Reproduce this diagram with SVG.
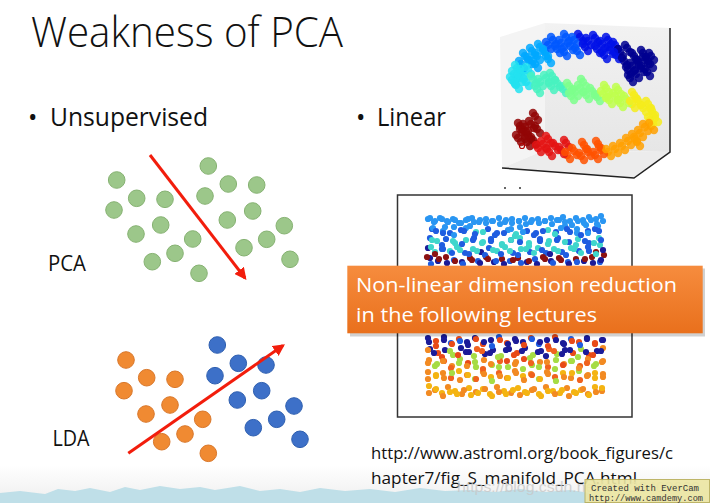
<svg xmlns="http://www.w3.org/2000/svg" xmlns:xlink="http://www.w3.org/1999/xlink" width="710" height="503" viewBox="0 0 710 503">
<defs>
<style>
.t{font-family:"Open Sans","Liberation Sans",sans-serif;fill:#111}
.gd{fill:#9cc78a;stroke:#86b272;stroke-width:1}
.od{fill:#f08a32;stroke:#d9772a;stroke-width:1}
.bd{fill:#3d70c8;stroke:#2e5fb0;stroke-width:1}
.arr{stroke:#f21d0c;stroke-width:3;fill:none}
#sc circle{r:3.1}
.a{fill:#2a96f2}.b{fill:#1f5ce0}.c{fill:#3fd6cc}.d{fill:#1b1b98}.e{fill:#8c1212}.f{fill:#e84a18}.g{fill:#a6dc44}.h{fill:#f28a22}.i{fill:#f4b412}.j{fill:#f0621e}
#s3d circle{r:4.2;opacity:.85}
.s1{fill:#00008f}.s2{fill:#0010e8}.s3{fill:#0058ff}.s4{fill:#00a8ff}.s5{fill:#22e2f0}.s6{fill:#48f2c0}.s7{fill:#7cff8c}.s8{fill:#beff4c}.s9{fill:#f4ec1c}.s10{fill:#ffa000}.s11{fill:#ff5200}.s12{fill:#e41414}.s13{fill:#920606}
</style>
<marker id="ah" viewBox="0 0 10 10" refX="8" refY="5" markerWidth="4" markerHeight="4" orient="auto" markerUnits="strokeWidth">
<path d="M0,0 L10,5 L0,10 Z" fill="#f21d0c"/>
</marker>
<linearGradient id="og" x1="0" y1="0" x2="0" y2="1">
<stop offset="0" stop-color="#f68c3e"/><stop offset="1" stop-color="#e9701c"/>
</linearGradient>
<linearGradient id="bg" x1="0" y1="0" x2="0" y2="1">
<stop offset="0" stop-color="#ffffff"/><stop offset="1" stop-color="#eeeeee"/>
</linearGradient>
<linearGradient id="wall" x1="0" y1="0" x2="0" y2="1">
<stop offset="0" stop-color="#f2f2f2"/><stop offset="1" stop-color="#e6e6e6"/>
</linearGradient>
</defs>
<rect width="710" height="503" fill="#fff"/>
<rect x="0" y="465" width="710" height="38" fill="url(#bg)"/>
<path d="M0,493 L20,491 L45,494 L58,489 L75,491 L90,488 L110,492 L125,487 L140,490 L160,486 L180,489 L200,487 L215,490 L240,486 L260,491 L280,489 L300,492 L320,488 L345,491 L370,489 L395,492 L420,488 L445,491 L470,490 L495,492 L520,489 L545,492 L570,490 L590,493 L590,503 L0,503 Z" fill="#bfdfe8"/>
<text class="t" x="31" y="46.5" font-size="42" font-weight="300" textLength="312" lengthAdjust="spacingAndGlyphs">Weakness of PCA</text>
<g id="bullet-unsupervised"><text class="t" x="28" y="126" font-size="25">•</text><text class="t" x="50" y="126" font-size="25" textLength="158" lengthAdjust="spacingAndGlyphs">Unsupervised</text></g>
<g id="bullet-linear"><text class="t" x="356" y="126" font-size="25">•</text><text class="t" x="377" y="126" font-size="25" textLength="69" lengthAdjust="spacingAndGlyphs">Linear</text></g>
<g id="pca-label"><text class="t" x="48" y="271" font-size="21" textLength="38" lengthAdjust="spacingAndGlyphs">PCA</text></g>
<g id="lda-label"><text class="t" x="52.5" y="446" font-size="21" textLength="37" lengthAdjust="spacingAndGlyphs">LDA</text></g>
<g id="pca-dots">
<circle class="gd" cx="208.3" cy="166" r="8.3"/><circle class="gd" cx="116.7" cy="180" r="8.3"/><circle class="gd" cx="228.3" cy="184" r="8.3"/><circle class="gd" cx="256.7" cy="185" r="8.3"/><circle class="gd" cx="136.7" cy="198.3" r="8.3"/><circle class="gd" cx="165" cy="199.3" r="8.3"/><circle class="gd" cx="205" cy="196" r="8.3"/><circle class="gd" cx="114" cy="210" r="8.3"/><circle class="gd" cx="252.7" cy="211" r="8.3"/><circle class="gd" cx="227.3" cy="220" r="8.3"/><circle class="gd" cx="160.7" cy="225" r="8.3"/><circle class="gd" cx="136" cy="234" r="8.3"/><circle class="gd" cx="284.3" cy="225.7" r="8.3"/><circle class="gd" cx="192.7" cy="239" r="8.3"/><circle class="gd" cx="266.7" cy="239.3" r="8.3"/><circle class="gd" cx="244" cy="247.7" r="8.3"/><circle class="gd" cx="175" cy="253.3" r="8.3"/><circle class="gd" cx="152.3" cy="261.7" r="8.3"/><circle class="gd" cx="290" cy="259.3" r="8.3"/><circle class="gd" cx="199" cy="273.3" r="8.3"/>
</g>
<g id="lda-dots">
<circle class="od" cx="126" cy="360" r="8.3"/><circle class="od" cx="146.7" cy="377.7" r="8.3"/><circle class="od" cx="175" cy="379.3" r="8.3"/><circle class="od" cx="124" cy="390.7" r="8.3"/><circle class="od" cx="170" cy="405" r="8.3"/><circle class="od" cx="146" cy="414" r="8.3"/><circle class="od" cx="202.7" cy="419.3" r="8.3"/><circle class="od" cx="185" cy="434" r="8.3"/><circle class="od" cx="161.7" cy="441.7" r="8.3"/><circle class="od" cx="208.3" cy="453.3" r="8.3"/>
<circle class="bd" cx="217.3" cy="345" r="8.3"/><circle class="bd" cx="238.3" cy="363.3" r="8.3"/><circle class="bd" cx="266" cy="365" r="8.3"/><circle class="bd" cx="215" cy="375.7" r="8.3"/><circle class="bd" cx="261.7" cy="390.7" r="8.3"/><circle class="bd" cx="237.3" cy="400" r="8.3"/><circle class="bd" cx="294" cy="406" r="8.3"/><circle class="bd" cx="276.7" cy="419.3" r="8.3"/><circle class="bd" cx="253.3" cy="427.7" r="8.3"/><circle class="bd" cx="300" cy="439.3" r="8.3"/>
</g>
<g id="connectors">
<line class="arr" x1="150" y1="155" x2="245" y2="278" marker-end="url(#ah)"/>
<line class="arr" x1="128.3" y1="453.3" x2="283" y2="345.5" marker-end="url(#ah)"/>
</g>
<g id="s-curve-3d">
<polygon points="500,37 545,23 545,150 502,168" fill="#f4f4f4"/>
<polygon points="545,23 670,28 670,152 545,150" fill="url(#wall)"/>
<polygon points="502,168 545,150 670,152 634,178" fill="#ececec"/>
<polyline points="502,168 634,178 670,152 670,28" fill="none" stroke="#222" stroke-width="1.5"/>
<g id="s3d">
<g id="s3dpts">
<circle class="s1" cx="636" cy="74"/><circle class="s1" cx="641" cy="68"/><circle class="s1" cx="632" cy="66"/><circle class="s1" cx="645" cy="60"/><circle class="s1" cx="638" cy="62"/><circle class="s1" cx="628" cy="70"/><circle class="s1" cx="650" cy="64"/><circle class="s1" cx="643" cy="53"/><circle class="s1" cx="634" cy="56"/><circle class="s1" cx="630" cy="78"/><circle class="s1" cx="624" cy="61"/><circle class="s1" cx="620" cy="52"/><circle class="s1" cx="647" cy="72"/><circle class="s1" cx="627" cy="48"/><circle class="s1" cx="651" cy="56"/>
<circle class="s2" cx="615" cy="45"/><circle class="s2" cx="610" cy="50"/><circle class="s2" cx="608" cy="40"/><circle class="s2" cx="602" cy="44"/><circle class="s2" cx="595" cy="38"/><circle class="s2" cx="597" cy="49"/><circle class="s2" cx="588" cy="41"/><circle class="s2" cx="585" cy="47"/><circle class="s2" cx="580" cy="37"/><circle class="s2" cx="616" cy="55"/><circle class="s2" cx="604" cy="55"/>
<circle class="s3" cx="574" cy="40"/><circle class="s3" cx="570" cy="46"/><circle class="s3" cx="566" cy="37"/><circle class="s3" cx="561" cy="43"/><circle class="s3" cx="557" cy="49"/><circle class="s3" cx="553" cy="40"/><circle class="s3" cx="548" cy="45"/><circle class="s3" cx="577" cy="51"/><circle class="s3" cx="564" cy="52"/>
<circle class="s4" cx="545" cy="52"/><circle class="s4" cx="540" cy="47"/><circle class="s4" cx="537" cy="56"/><circle class="s4" cx="532" cy="51"/><circle class="s4" cx="529" cy="60"/><circle class="s4" cx="525" cy="56"/><circle class="s4" cx="521" cy="64"/><circle class="s4" cx="548" cy="59"/><circle class="s4" cx="535" cy="64"/>
<circle class="s5" cx="517" cy="68"/><circle class="s5" cx="514" cy="74"/><circle class="s5" cx="519" cy="78"/><circle class="s5" cx="512" cy="80"/><circle class="s5" cx="522" cy="72"/><circle class="s5" cx="526" cy="82"/><circle class="s5" cx="516" cy="85"/><circle class="s5" cx="528" cy="70"/>
<circle class="s6" cx="533" cy="79"/><circle class="s6" cx="540" cy="82"/><circle class="s6" cx="546" cy="78"/><circle class="s6" cx="551" cy="86"/><circle class="s6" cx="557" cy="83"/><circle class="s6" cx="563" cy="89"/><circle class="s6" cx="537" cy="89"/><circle class="s6" cx="552" cy="76"/>
<circle class="s7" cx="569" cy="86"/><circle class="s7" cx="575" cy="92"/><circle class="s7" cx="580" cy="88"/><circle class="s7" cx="586" cy="95"/><circle class="s7" cx="592" cy="91"/><circle class="s7" cx="597" cy="97"/><circle class="s7" cx="583" cy="82"/><circle class="s7" cx="571" cy="96"/>
<circle class="s8" cx="603" cy="94"/><circle class="s8" cx="609" cy="100"/><circle class="s8" cx="615" cy="96"/><circle class="s8" cx="620" cy="103"/><circle class="s8" cx="626" cy="99"/><circle class="s8" cx="606" cy="88"/><circle class="s8" cx="618" cy="90"/>
<circle class="s9" cx="632" cy="104"/><circle class="s9" cx="638" cy="101"/><circle class="s9" cx="643" cy="108"/><circle class="s9" cx="648" cy="104"/><circle class="s9" cx="652" cy="111"/><circle class="s9" cx="655" cy="118"/><circle class="s9" cx="650" cy="120"/><circle class="s9" cx="634" cy="95"/>
<circle class="s10" cx="645" cy="127"/><circle class="s10" cx="640" cy="133"/><circle class="s10" cx="634" cy="137"/><circle class="s10" cx="628" cy="141"/><circle class="s10" cx="622" cy="146"/><circle class="s10" cx="615" cy="149"/><circle class="s10" cx="608" cy="152"/><circle class="s10" cx="651" cy="126"/><circle class="s10" cx="637" cy="142"/>
<circle class="s11" cx="601" cy="150"/><circle class="s11" cx="595" cy="155"/><circle class="s11" cx="588" cy="152"/><circle class="s11" cx="581" cy="156"/><circle class="s11" cx="574" cy="151"/><circle class="s11" cx="567" cy="155"/><circle class="s11" cx="598" cy="144"/><circle class="s11" cx="584" cy="145"/>
<circle class="s12" cx="561" cy="150"/><circle class="s12" cx="555" cy="146"/><circle class="s12" cx="549" cy="152"/><circle class="s12" cx="543" cy="144"/><circle class="s12" cx="538" cy="148"/><circle class="s12" cx="566" cy="143"/><circle class="s12" cx="548" cy="139"/>
<circle class="s13" cx="533" cy="140"/><circle class="s13" cx="528" cy="135"/><circle class="s13" cx="522" cy="132"/><circle class="s13" cx="518" cy="138"/><circle class="s13" cx="525" cy="127"/><circle class="s13" cx="531" cy="124"/><circle class="s13" cx="537" cy="129"/><circle class="s13" cx="520" cy="126"/><circle class="s13" cx="527" cy="142"/><circle class="s13" cx="535" cy="116"/>
</g>
<use xlink:href="#s3dpts" href="#s3dpts" transform="translate(3,4)"/>
<use xlink:href="#s3dpts" href="#s3dpts" transform="translate(-2,-3)"/>
</g>
<circle cx="522" cy="146" r="2.5" fill="none" stroke="#b00000" stroke-width="1.2"/>
</g>
<g id="scatter-2d">
<circle cx="505" cy="188" r="1" fill="#333"/><circle cx="520" cy="188" r="1" fill="#333"/>
<rect x="397.5" y="195" width="234.5" height="222" fill="#fff" stroke="#333" stroke-width="1.5"/>
<g id="sc">
<g id="scpts">
<circle class="a" cx="428" cy="219"/><circle class="a" cx="434" cy="222"/><circle class="a" cx="440" cy="218"/><circle class="a" cx="447" cy="221"/><circle class="a" cx="453" cy="219"/><circle class="a" cx="459" cy="223"/><circle class="a" cx="466" cy="220"/><circle class="a" cx="472" cy="218"/><circle class="a" cx="479" cy="222"/><circle class="a" cx="486" cy="219"/><circle class="a" cx="492" cy="221"/><circle class="a" cx="499" cy="218"/><circle class="a" cx="505" cy="222"/><circle class="a" cx="512" cy="219"/><circle class="a" cx="519" cy="221"/><circle class="a" cx="525" cy="218"/><circle class="a" cx="531" cy="222"/><circle class="a" cx="538" cy="219"/><circle class="a" cx="545" cy="221"/><circle class="a" cx="551" cy="218"/><circle class="a" cx="557" cy="220"/><circle class="a" cx="563" cy="217"/><circle class="a" cx="570" cy="221"/><circle class="a" cx="576" cy="218"/><circle class="a" cx="583" cy="220"/><circle class="a" cx="589" cy="217"/><circle class="a" cx="596" cy="219"/><circle class="a" cx="601" cy="216"/><circle class="a" cx="454" cy="227"/><circle class="a" cx="470" cy="226"/><circle class="a" cx="520" cy="227"/><circle class="a" cx="565" cy="226"/><circle class="a" cx="598" cy="226"/><circle class="a" cx="586" cy="225"/>
<circle class="b" cx="432" cy="229"/><circle class="a" cx="443" cy="231"/><circle class="b" cx="450" cy="233"/><circle class="b" cx="461" cy="230"/><circle class="c" cx="476" cy="232"/><circle class="b" cx="488" cy="229"/><circle class="b" cx="497" cy="233"/><circle class="a" cx="508" cy="230"/><circle class="c" cx="516" cy="234"/><circle class="b" cx="527" cy="231"/><circle class="b" cx="536" cy="233"/><circle class="c" cx="548" cy="230"/><circle class="b" cx="556" cy="232"/><circle class="b" cx="567" cy="229"/><circle class="a" cx="577" cy="233"/><circle class="b" cx="588" cy="231"/><circle class="b" cx="595" cy="229"/>
<circle class="b" cx="430" cy="238"/><circle class="c" cx="437" cy="241"/><circle class="b" cx="446" cy="239"/><circle class="c" cx="455" cy="243"/><circle class="c" cx="466" cy="240"/><circle class="b" cx="474" cy="238"/><circle class="c" cx="483" cy="242"/><circle class="b" cx="491" cy="239"/><circle class="c" cx="502" cy="244"/><circle class="b" cx="511" cy="240"/><circle class="c" cx="520" cy="238"/><circle class="c" cx="529" cy="243"/><circle class="b" cx="540" cy="239"/><circle class="c" cx="549" cy="241"/><circle class="b" cx="558" cy="238"/><circle class="b" cx="569" cy="242"/><circle class="c" cx="578" cy="239"/><circle class="b" cx="589" cy="243"/><circle class="c" cx="599" cy="238"/>
<circle class="d" cx="428" cy="248"/><circle class="c" cx="435" cy="252"/><circle class="b" cx="442" cy="249"/><circle class="c" cx="450" cy="251"/><circle class="c" cx="457" cy="247"/><circle class="b" cx="465" cy="253"/><circle class="c" cx="473" cy="249"/><circle class="d" cx="481" cy="252"/><circle class="b" cx="489" cy="248"/><circle class="c" cx="497" cy="251"/><circle class="c" cx="505" cy="247"/><circle class="b" cx="513" cy="253"/><circle class="c" cx="521" cy="249"/><circle class="b" cx="530" cy="252"/><circle class="c" cx="538" cy="248"/><circle class="b" cx="546" cy="253"/><circle class="c" cx="554" cy="249"/><circle class="b" cx="562" cy="252"/><circle class="c" cx="571" cy="248"/><circle class="b" cx="579" cy="251"/><circle class="b" cx="588" cy="247"/><circle class="e" cx="596" cy="252"/><circle class="c" cx="600" cy="245"/>
<circle class="d" cx="430" cy="258"/><circle class="d" cx="438" cy="261"/><circle class="e" cx="446" cy="257"/><circle class="b" cx="454" cy="260"/><circle class="d" cx="462" cy="262"/><circle class="e" cx="470" cy="258"/><circle class="b" cx="478" cy="261"/><circle class="e" cx="486" cy="257"/><circle class="d" cx="494" cy="262"/><circle class="e" cx="502" cy="259"/><circle class="b" cx="510" cy="261"/><circle class="e" cx="518" cy="258"/><circle class="d" cx="527" cy="262"/><circle class="b" cx="535" cy="259"/><circle class="e" cx="543" cy="257"/><circle class="d" cx="551" cy="261"/><circle class="e" cx="559" cy="258"/><circle class="b" cx="568" cy="262"/><circle class="e" cx="576" cy="259"/><circle class="d" cx="584" cy="261"/><circle class="e" cx="592" cy="257"/><circle class="b" cx="600" cy="262"/><circle class="e" cx="604" cy="255"/>
<circle class="d" cx="428" cy="338"/><circle class="f" cx="436" cy="341"/><circle class="d" cx="444" cy="337"/><circle class="b" cx="451" cy="343"/><circle class="f" cx="459" cy="339"/><circle class="d" cx="467" cy="342"/><circle class="d" cx="475" cy="338"/><circle class="f" cx="483" cy="344"/><circle class="d" cx="491" cy="340"/><circle class="b" cx="499" cy="337"/><circle class="f" cx="507" cy="343"/><circle class="d" cx="515" cy="339"/><circle class="d" cx="523" cy="342"/><circle class="f" cx="531" cy="338"/><circle class="b" cx="539" cy="344"/><circle class="d" cx="547" cy="340"/><circle class="f" cx="555" cy="337"/><circle class="d" cx="563" cy="343"/><circle class="b" cx="571" cy="339"/><circle class="f" cx="579" cy="342"/><circle class="d" cx="587" cy="338"/><circle class="f" cx="595" cy="344"/><circle class="d" cx="602" cy="340"/>
<circle class="d" cx="430" cy="349"/><circle class="f" cx="438" cy="353"/><circle class="d" cx="445" cy="350"/><circle class="g" cx="453" cy="355"/><circle class="d" cx="461" cy="348"/><circle class="d" cx="469" cy="352"/><circle class="j" cx="477" cy="349"/><circle class="d" cx="485" cy="354"/><circle class="d" cx="493" cy="350"/><circle class="g" cx="501" cy="356"/><circle class="d" cx="509" cy="349"/><circle class="f" cx="517" cy="353"/><circle class="d" cx="525" cy="348"/><circle class="g" cx="533" cy="355"/><circle class="d" cx="541" cy="351"/><circle class="j" cx="549" cy="349"/><circle class="g" cx="557" cy="354"/><circle class="d" cx="565" cy="350"/><circle class="f" cx="573" cy="353"/><circle class="g" cx="581" cy="349"/><circle class="f" cx="589" cy="355"/><circle class="d" cx="597" cy="351"/><circle class="h" cx="603" cy="348"/>
<circle class="h" cx="429" cy="360"/><circle class="g" cx="437" cy="364"/><circle class="j" cx="444" cy="361"/><circle class="h" cx="452" cy="366"/><circle class="g" cx="460" cy="359"/><circle class="f" cx="468" cy="363"/><circle class="g" cx="476" cy="367"/><circle class="h" cx="484" cy="360"/><circle class="g" cx="492" cy="365"/><circle class="j" cx="500" cy="361"/><circle class="g" cx="508" cy="367"/><circle class="h" cx="516" cy="362"/><circle class="f" cx="524" cy="359"/><circle class="g" cx="532" cy="365"/><circle class="h" cx="540" cy="362"/><circle class="j" cx="548" cy="367"/><circle class="g" cx="556" cy="360"/><circle class="h" cx="564" cy="364"/><circle class="g" cx="572" cy="361"/><circle class="j" cx="580" cy="366"/><circle class="h" cx="588" cy="359"/><circle class="g" cx="596" cy="364"/><circle class="h" cx="603" cy="361"/>
<circle class="h" cx="428" cy="372"/><circle class="i" cx="436" cy="376"/><circle class="h" cx="443" cy="373"/><circle class="j" cx="451" cy="378"/><circle class="i" cx="459" cy="371"/><circle class="h" cx="467" cy="375"/><circle class="g" cx="475" cy="379"/><circle class="h" cx="483" cy="372"/><circle class="i" cx="491" cy="377"/><circle class="j" cx="499" cy="373"/><circle class="h" cx="507" cy="378"/><circle class="h" cx="515" cy="371"/><circle class="i" cx="523" cy="376"/><circle class="h" cx="531" cy="374"/><circle class="g" cx="539" cy="379"/><circle class="h" cx="547" cy="372"/><circle class="j" cx="555" cy="377"/><circle class="i" cx="563" cy="373"/><circle class="h" cx="571" cy="378"/><circle class="g" cx="579" cy="371"/><circle class="h" cx="587" cy="376"/><circle class="i" cx="595" cy="373"/><circle class="h" cx="603" cy="377"/>
<circle class="i" cx="429" cy="386"/><circle class="h" cx="435" cy="390"/><circle class="i" cx="442" cy="393"/><circle class="h" cx="448" cy="387"/><circle class="i" cx="455" cy="391"/><circle class="h" cx="462" cy="394"/><circle class="i" cx="469" cy="388"/><circle class="h" cx="476" cy="392"/><circle class="i" cx="483" cy="389"/><circle class="i" cx="490" cy="394"/><circle class="h" cx="497" cy="387"/><circle class="i" cx="504" cy="391"/><circle class="h" cx="511" cy="393"/><circle class="i" cx="518" cy="388"/><circle class="i" cx="525" cy="392"/><circle class="h" cx="532" cy="390"/><circle class="i" cx="539" cy="394"/><circle class="h" cx="546" cy="387"/><circle class="i" cx="553" cy="391"/><circle class="i" cx="560" cy="393"/><circle class="h" cx="567" cy="388"/><circle class="i" cx="574" cy="392"/><circle class="i" cx="581" cy="390"/><circle class="h" cx="588" cy="394"/><circle class="i" cx="595" cy="387"/><circle class="h" cx="602" cy="391"/>
</g>
<use xlink:href="#scpts" href="#scpts" transform="matrix(-1,0,0,1,1031,2)"/>
</g>
</g>
<g id="callout">
<rect x="350" y="268.5" width="355" height="68" fill="#000" opacity="0.18"/>
<rect x="347.3" y="265.7" width="355.4" height="67.6" fill="url(#og)"/>
<text class="t" x="356" y="292" font-size="20" style="fill:#fff" textLength="321" lengthAdjust="spacingAndGlyphs">Non-linear dimension reduction</text>
<text class="t" x="356" y="322" font-size="20" style="fill:#fff" textLength="241" lengthAdjust="spacingAndGlyphs">in the following lectures</text>
</g>
<g id="url">
<text class="t" x="371" y="459" font-size="17" textLength="302" lengthAdjust="spacingAndGlyphs">http://www.astroml.org/book_figures/c</text>
<text class="t" x="371" y="483.5" font-size="17" textLength="266" lengthAdjust="spacingAndGlyphs">hapter7/fig_S_manifold_PCA.html</text>
</g>
<text x="457" y="492" font-family="'Liberation Sans',sans-serif" font-size="14" fill="#c8c8c8" opacity="0.8" textLength="243" lengthAdjust="spacingAndGlyphs">https://blog.csdn.net/qq_26409629</text>
<g id="camdemy">
<rect x="585" y="479.5" width="124.5" height="23" fill="#ece6a2" opacity="0.9" stroke="#b8ae5a" stroke-width="1"/>
<text x="591" y="490.5" font-family="'Liberation Mono',monospace" font-size="9.5" fill="#333" textLength="108" lengthAdjust="spacingAndGlyphs">Created with EverCam</text>
<text x="589" y="500.5" font-family="'Liberation Mono',monospace" font-size="9.5" fill="#333" textLength="114" lengthAdjust="spacingAndGlyphs">http://www.camdemy.com</text>
</g>
</svg>
